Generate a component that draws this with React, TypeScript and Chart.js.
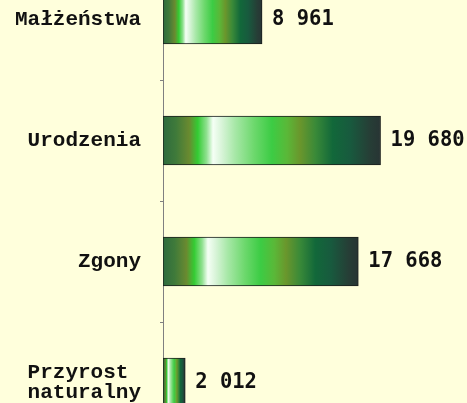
import React, { useEffect, useRef } from "react";
import { Chart, registerables } from "chart.js";

Chart.register(...registerables);

const categories: (string | string[])[] = ["Małżeństwa", "Urodzenia", "Zgony", ["Przyrost ", "naturalny"]];
const values: number[] = [8961, 19680, 17668, 2012];
const xMax = 27500;

const gradientStops: [number, string][] = [
  [0, "#2e6b3e"],
  [0.06, "#3f7a3a"],
  [0.12, "#6a8a30"],
  [0.16, "#33cc33"],
  [0.2, "#8fe08f"],
  [0.23, "#f5fff5"],
  [0.27, "#d8f4d8"],
  [0.33, "#a8e8a8"],
  [0.42, "#6cd86c"],
  [0.5, "#3ccc44"],
  [0.57, "#5ab838"],
  [0.63, "#6a962c"],
  [0.7, "#3a8a38"],
  [0.78, "#12683a"],
  [0.86, "#185a3e"],
  [0.95, "#263e36"],
  [1, "#283434"],
];

const fmt = (v: number) => v.toString().replace(/\B(?=(\d{3})+(?!\d))/g, " ");

const valueLabels = {
  id: "valueLabels",
  afterDatasetsDraw(chart: any) {
    const ctx = chart.ctx;
    const meta = chart.getDatasetMeta(0);
    ctx.save();
    ctx.font = "bold 20.5px 'DejaVu Sans Mono'";
    ctx.fillStyle = "#111";
    ctx.textAlign = "left";
    ctx.textBaseline = "middle";
    meta.data.forEach((el: any, i: number) => {
      ctx.fillText(fmt(values[i]), el.x + 10, el.y);
    });
    ctx.restore();
  },
};

export default function App() {
  const ref = useRef<HTMLCanvasElement>(null);
  useEffect(() => {
    if (!ref.current) return;
    const chart = new Chart(ref.current, {
      type: "bar",
      data: {
        labels: categories as any,
        datasets: [
          {
            data: values,
            barThickness: 49,
            borderWidth: 1,
            borderColor: "#1a1e1c",
            borderSkipped: false,
            backgroundColor: (c: any) => {
              const chart = c.chart;
              if (!chart.chartArea || c.type !== "data" || !chart.scales.x) return "#2e6b3e";
              const xs = chart.scales.x;
              const x0 = xs.getPixelForValue(0);
              const x1 = xs.getPixelForValue(c.raw);
              const g = chart.ctx.createLinearGradient(x0, 0, x1, 0);
              gradientStops.forEach(([p, col]) => g.addColorStop(p, col));
              return g;
            },
          },
        ],
      },
      options: {
        indexAxis: "y",
        animation: false,
        responsive: false,
        devicePixelRatio: 1,
        layout: { padding: 0, autoPadding: false },
        plugins: { legend: { display: false }, tooltip: { enabled: false } },
        scales: {
          x: { display: false, min: 0, max: xMax },
          y: {
            afterFit: (s: any) => {
              s.width = 163;
              s.paddingTop = 0;
              s.paddingBottom = 0;
            },
            grid: {
              display: true,
              drawOnChartArea: false,
              drawTicks: true,
              tickLength: 3,
              color: "#808080",
              offset: true,
            },
            border: { display: true, color: "#808080", width: 1 },
            ticks: {
              padding: 19,
              color: "#111",
              font: { family: "'Liberation Mono'", size: 21, weight: "bold", lineHeight: 0.95 },
            },
          },
        },
      },
      plugins: [valueLabels],
    });
    return () => chart.destroy();
  }, []);
  return (
    <div
      style={{
        position: "fixed",
        left: 0,
        top: 0,
        width: 467,
        height: 403,
        overflow: "hidden",
        background: "#ffffdc",
      }}
    >
      <canvas ref={ref} width={467} height={484} style={{ position: "absolute", left: 0, top: -41, width: 467, height: 484 }} />
    </div>
  );
}
